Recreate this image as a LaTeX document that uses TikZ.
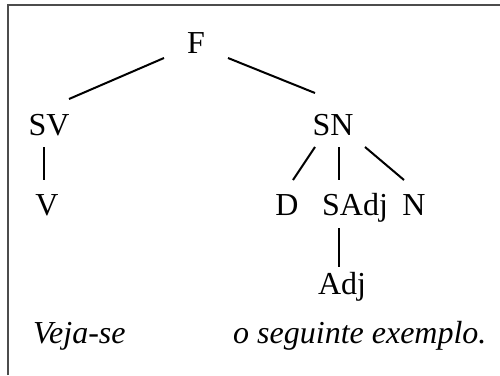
\documentclass[tikz,border=0pt]{standalone}
\usepackage{fontspec}
\setmainfont{Liberation Serif}
\usetikzlibrary{calc}
\begin{document}
\begin{tikzpicture}[x=1pt, y=-1pt,
   every node/.style={inner sep=0pt, anchor=base, font=\fontsize{32}{38}\selectfont},
   branch/.style={line width=2pt},
   frame/.style={draw=black!70, line width=1.5pt}]

\useasboundingbox (0,0) rectangle (500,375);
\draw[frame] (8,375) -- (8,5) -- (500,5);

\node (F)    at (196,53)  {F};
\node (SV)   at (49,135)  {SV};
\node (SN)   at (333,135) {SN};
\node (V)    at (47,215)  {V};
\node (D)    at (287,215) {D};
\node (SAdj) at (355,215) {SAdj};
\node (N)    at (414,215) {N};
\node (Adj)  at (342,294) {Adj};

\draw[branch] ($(F.base)+(-32,5)$)   -- ($(SV.base)+(20,-36)$);
\draw[branch] ($(F.base)+(32,5)$)    -- ($(SN.base)+(-18,-42)$);
\draw[branch] ($(SV.base)+(-5,12)$)  -- ($(V.base)+(-3,-35)$);
\draw[branch] ($(SN.base)+(-18,12)$) -- ($(D.base)+(6,-35)$);
\draw[branch] ($(SN.base)+(6,12)$)   -- ($(SAdj.base)+(-16,-35)$);
\draw[branch] ($(SN.base)+(32,12)$)  -- ($(N.base)+(-10,-35)$);
\draw[branch] ($(SAdj.base)+(-16,13)$) -- ($(Adj.base)+(-3,-27)$);

\node[anchor=base west] (veja) at (33,343)  {\itshape Veja-se};
\node[anchor=base west] (exem) at (233,343) {\itshape o seguinte exemplo.};

\end{tikzpicture}
\end{document}
